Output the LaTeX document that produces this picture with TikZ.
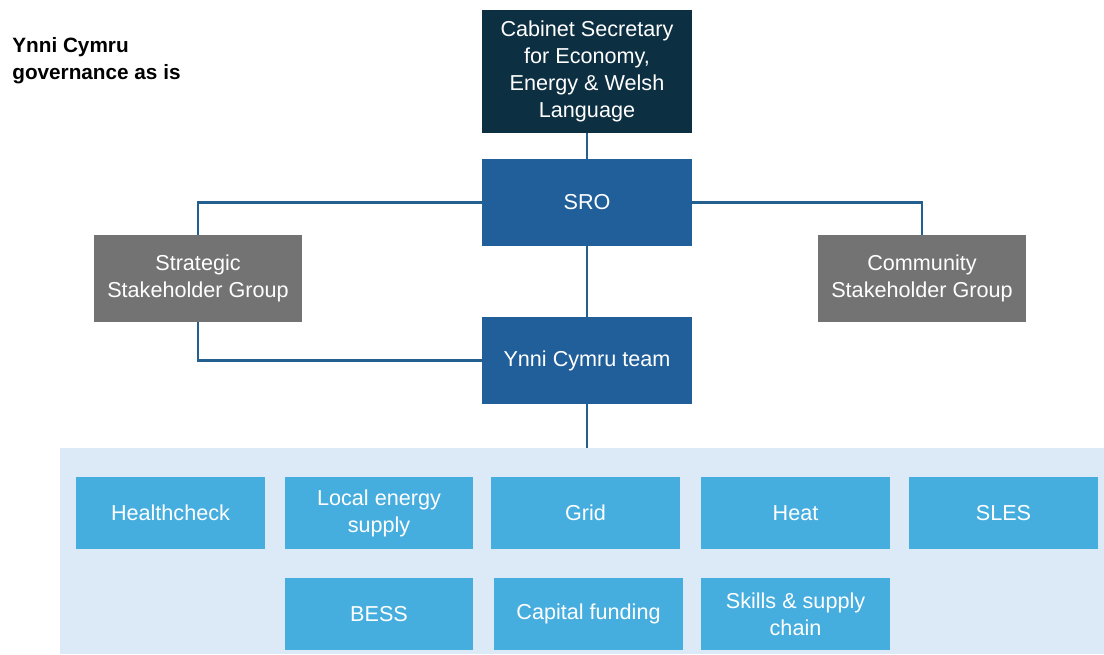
\documentclass[tikz,border=0pt]{standalone}
\usepackage{fontspec}
\setmainfont{Liberation Sans}
\usetikzlibrary{positioning}

\definecolor{navy}{HTML}{0D2F42}
\definecolor{sroblue}{HTML}{215F9A}
\definecolor{stakegrey}{HTML}{737373}
\definecolor{panelblue}{HTML}{DCE9F6}
\definecolor{workblue}{HTML}{46AEDF}
\definecolor{linkblue}{HTML}{24608F}

\tikzset{
	box/.style={rectangle,inner sep=0pt,outer sep=0pt,text=white,align=center,
		font=\fontsize{12.3}{15.3}\selectfont,minimum width=4.2cm,minimum height=1.74cm},
	lead/.style={box,fill=sroblue},
	stake/.style={box,fill=stakegrey,minimum width=4.16cm},
	work/.style={box,fill=workblue,minimum width=3.78cm,minimum height=1.44cm},
	link/.style={draw=linkblue,line width=1.2pt},
}

\begin{document}
\begin{tikzpicture}[x=0.02cm,y=-0.02cm]
		\useasboundingbox (0,0) rectangle (1104,654);
		\node[anchor=north west,align=left,inner sep=0pt,font=\bfseries\fontsize{11.8}{15.3}\selectfont] (title) at (12,37) {Ynni Cymru\\governance as is};
		\node[box,fill=navy,minimum height=2.46cm] (cab) at (587,71.5) {Cabinet Secretary\\for Economy,\\Energy \& Welsh\\Language};
		\node[lead] (sro) at (587,202.5) {SRO};
		\node[stake] (strat) at (198,278.5) {Strategic\\Stakeholder Group};
		\node[stake] (comm) at (922,278.5) {Community\\Stakeholder Group};
		\node[lead] (team) at (587,360.5) {Ynni Cymru team};
		\node[rectangle,fill=panelblue,inner sep=0pt,minimum width=20.88cm,minimum height=4.12cm] (panel) at (582,551) {};
		% workstreams, first row
		\node[work] (health) at (170.5,513) {Healthcheck};
		\node[work] (local) at (379,513) {Local energy\\supply};
		\node[work] (grid) at (585.5,513) {Grid};
		\node[work] (heat) at (795.5,513) {Heat};
		\node[work] (sles) at (1003.5,513) {SLES};
		% second row
		\node[work] (bess) at (379,614) {BESS};
		\node[work] (capital) at (588.5,614) {Capital funding};
		\node[work] (skills) at (795.5,614) {Skills \& supply\\chain};
		\draw[link] (cab) -- (sro);
		\draw[link] (sro.west) -| (strat.north);
		\draw[link] (sro.east) -| (comm.north);
		\draw[link] (sro) -- (team);
		\draw[link] (strat.south) |- (team.west);
		\draw[link] (team.south) -- (team.south |- panel.north);
	\end{tikzpicture}
\end{document}
